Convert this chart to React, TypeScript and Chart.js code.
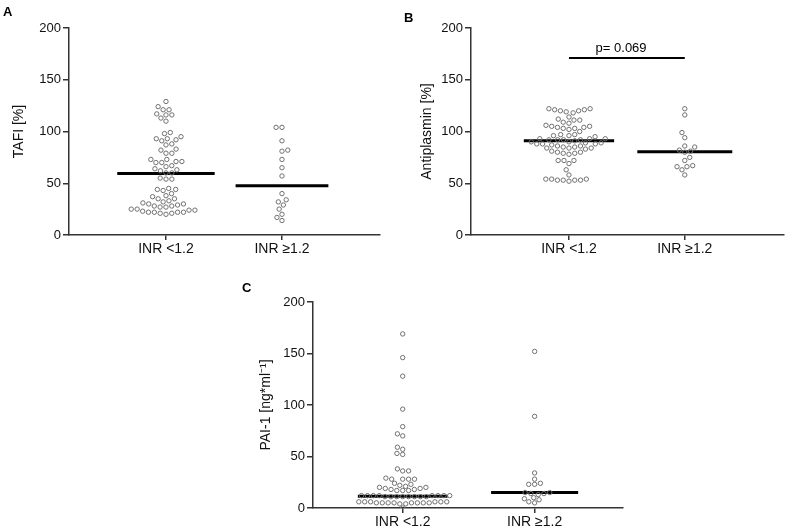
import React, { useEffect, useRef } from "react";
import { Chart, registerables } from "chart.js";

Chart.register(...registerables);

// ---------- data ----------
const categories = ["INR <1.2", "INR \u22651.2"];
const yTickValues = [0, 50, 100, 150, 200];

const tafiLow = [
  129, 124, 121, 121, 117, 116, 116, 113, 110,
  99, 98, 95, 93, 93, 92, 91, 88, 87, 83, 82, 79, 79,
  73, 73, 71, 71, 70, 70, 67, 66, 64, 63, 62, 60, 60, 55, 54, 54,
  45, 44, 44, 43, 40, 38, 37, 35, 35,
  33, 32, 31, 30, 30, 29, 28, 28, 27, 27,
  25, 25, 24, 24, 23, 22, 22, 22, 22, 21, 21, 20,
];
const tafiHigh = [104, 104, 91, 82, 81, 73, 65, 57, 40, 34, 32, 29, 25, 20, 17, 14];
const tafiMedians = [59.5, 47.5];

const antiLow = [
  122, 122, 121, 121, 120, 120, 119, 118,
  114, 112, 111, 111, 109, 108,
  106, 105, 105, 104, 104, 103, 103, 102, 100,
  97, 97, 96, 96, 95,
  93, 93, 93, 92, 92, 92, 92, 91,
  90, 90, 89, 89, 88, 88, 88,
  87, 86, 86, 85, 85, 84, 84, 84, 83,
  81, 80, 80, 79, 79, 78,
  72, 72, 72, 69, 63, 58,
  54, 54, 54, 53, 53, 53, 53, 52,
];
const antiHigh = [122, 116, 99, 94, 86, 85, 82, 81, 80, 75, 72, 67, 66, 66, 63, 58];
const antiMedians = [91, 80.5];
const pText = "p= 0.069";
const pBarValue = 171;
const pTextValue = 180;
const pTextCategory = 1.45;

const paiLow = [
  169, 146, 128, 96, 79, 72, 70, 59, 57, 53, 52, 38, 36, 36,
  29, 28, 28, 28, 28,
  24, 23, 22, 21, 20, 20,
  19, 19, 18, 18, 17, 17, 17,
  12, 12, 12, 12, 12, 12, 12, 12, 11, 11, 11, 11, 11, 11, 11, 11,
  6, 6, 6, 6, 6, 6, 5, 5, 5, 5, 5, 5, 5, 5, 4, 4,
  0,
];
const paiHigh = [152, 89, 34, 28, 24, 23, 23, 15, 15, 14, 14, 13, 10, 9, 8, 6, 5];
const paiMedians = [11.3, 15];

// ---------- layout helpers ----------
const FONT = "'Liberation Sans', Arial, Helvetica, sans-serif";

function swarm(values: number[], center: number, kx: number, ky: number, d: number, squash: number) {
  const sorted = [...values].sort((a, b) => a - b);
  const placed: { x: number; y: number }[] = [];
  const out: { x: number; y: number }[] = [];
  sorted.forEach((v, i) => {
    const y = v * ky * squash;
    const intervals: [number, number][] = [];
    for (const p of placed) {
      const dy = Math.abs(p.y - y);
      if (dy < d) {
        const w = Math.sqrt(d * d - dy * dy);
        intervals.push([p.x - w, p.x + w]);
      }
    }
    const pref = i % 2 === 0 ? 1 : -1;
    const cands = [0];
    intervals.forEach(([a, b]) => cands.push(a, b));
    cands.sort((a, b) => {
      const da = Math.abs(a) - Math.abs(b);
      if (Math.abs(da) > 1e-6) return da;
      return (Math.sign(b) === pref ? 1 : 0) - (Math.sign(a) === pref ? 1 : 0);
    });
    let x = 0;
    for (const c of cands) {
      if (intervals.every(([a, b]) => c <= a + 1e-6 || c >= b - 1e-6)) {
        x = c;
        break;
      }
    }
    placed.push({ x, y });
    out.push({ x: center + x / kx, y: v });
  });
  return out;
}

type PanelProps = {
  left: number;
  top: number;
  width: number;
  height: number;
  yTitle: string;
  titlePad: number;
  yAxisWidth: number;
  padTop: number;
  padRight: number;
  xAxisH: number;
  xMin: number;
  xMax: number;
  low: number[];
  high: number[];
  medians: number[];
  halfWidths: number[];
  squash: number;
  sig?: boolean;
};

function Panel(props: PanelProps) {
  const ref = useRef<HTMLCanvasElement | null>(null);
  useEffect(() => {
    const canvas = ref.current;
    if (!canvas) return;
    const areaW = props.width - props.yAxisWidth - props.padRight;
    const areaH = props.height - props.padTop - props.xAxisH;
    const kx = areaW / (props.xMax - props.xMin);
    const ky = areaH / 200;
    const D = 5.9;
    const ptsLow = swarm(props.low, 1, kx, ky, D, props.squash);
    const ptsHigh = swarm(props.high, 2, kx, ky, D, props.squash);

    const pointStyle = {
      type: "scatter" as const,
      pointRadius: 2.2,
      pointHoverRadius: 2.2,
      borderWidth: 1,
      pointBorderColor: "#707070",
      pointBackgroundColor: "rgba(255,255,255,0)",
      showLine: false,
    };
    const medianLine = (i: number) => ({
      type: "line" as const,
      data: [
        { x: i + 1 - props.halfWidths[i], y: props.medians[i] },
        { x: i + 1 + props.halfWidths[i], y: props.medians[i] },
      ],
      borderColor: "#000",
      borderWidth: 3,
      pointRadius: 0,
      showLine: true,
      fill: false,
    });
    const datasets: any[] = [
      { ...pointStyle, data: ptsLow },
      { ...pointStyle, data: ptsHigh },
      medianLine(0),
      medianLine(1),
    ];
    if (props.sig) {
      datasets.push({
        type: "line",
        data: [
          { x: 1, y: pBarValue },
          { x: 2, y: pBarValue },
        ],
        borderColor: "#000",
        borderWidth: 2,
        pointRadius: 0,
        showLine: true,
        fill: false,
      });
    }

    const sigPlugin = {
      id: "sigText",
      afterDatasetsDraw(chart: any) {
        if (!props.sig) return;
        const { ctx, scales } = chart;
        ctx.save();
        ctx.font = `13px ${FONT}`;
        ctx.fillStyle = "#000";
        ctx.textAlign = "center";
        ctx.textBaseline = "middle";
        ctx.fillText(pText, scales.x.getPixelForValue(pTextCategory), scales.y.getPixelForValue(pTextValue));
        ctx.restore();
      },
    };

    const chart = new Chart(canvas, {
      type: "scatter",
      data: { datasets },
      plugins: [sigPlugin],
      options: {
        animation: false,
        responsive: false,
        devicePixelRatio: 1,
        layout: { padding: { left: 0, top: props.padTop, right: props.padRight, bottom: 0 } },
        plugins: { legend: { display: false }, tooltip: { enabled: false } },
        scales: {
          x: {
            type: "linear",
            min: props.xMin,
            max: props.xMax,
            afterBuildTicks: (s: any) => {
              s.ticks = [{ value: 1 }, { value: 2 }];
            },
            afterFit: (s: any) => {
              s.height = props.xAxisH;
            },
            ticks: {
              callback: (v: any) => categories[Math.round(Number(v)) - 1] ?? "",
              font: { family: FONT, size: 14 },
              color: "#111",
              padding: 1,
              maxRotation: 0,
              autoSkip: false,
            },
            grid: {
              display: true,
              drawOnChartArea: false,
              drawTicks: true,
              tickLength: 5,
              color: "#333",
              lineWidth: 1.5,
            },
            border: { display: true, color: "#333", width: 1.5 },
          },
          y: {
            type: "linear",
            min: 0,
            max: 200,
            afterBuildTicks: (s: any) => {
              s.ticks = yTickValues.map((v) => ({ value: v }));
            },
            afterFit: (s: any) => {
              s.width = props.yAxisWidth;
            },
            ticks: {
              font: { family: FONT, size: 13 },
              color: "#111",
              padding: 2,
            },
            grid: {
              display: true,
              drawOnChartArea: false,
              drawTicks: true,
              tickLength: 6,
              color: "#333",
              lineWidth: 1.5,
            },
            border: { display: true, color: "#333", width: 1.5 },
            title: {
              display: true,
              text: props.yTitle,
              font: { family: FONT, size: 14 },
              color: "#111",
              padding: { top: props.titlePad, bottom: 0 },
            },
          },
        },
      } as any,
    });
    return () => chart.destroy();
  }, []);
  return (
    <canvas
      ref={ref}
      width={props.width}
      height={props.height}
      style={{ position: "absolute", left: props.left, top: props.top, width: props.width, height: props.height }}
    />
  );
}

const letterStyle = (left: number, top: number): React.CSSProperties => ({
  position: "absolute",
  left,
  top,
  fontFamily: FONT,
  fontWeight: "bold",
  fontSize: 13,
  lineHeight: "15px",
  color: "#000",
});

export default function App() {
  return (
    <div style={{ position: "fixed", left: 0, top: 0, width: 787, height: 532, background: "#fff", overflow: "hidden" }}>
      <Panel
        left={0}
        top={0}
        width={390}
        height={260}
        yTitle="TAFI [%]"
        titlePad={10.5}
        yAxisWidth={69}
        padTop={28}
        padRight={10}
        xAxisH={25}
        xMin={0.164}
        xMax={2.845}
        low={tafiLow}
        high={tafiHigh}
        medians={tafiMedians}
        halfWidths={[0.42, 0.4]}
        squash={1}
      />
      <Panel
        left={390}
        top={0}
        width={397}
        height={260}
        yTitle="Antiplasmin [%]"
        titlePad={28.5}
        yAxisWidth={81}
        padTop={28}
        padRight={0}
        xAxisH={25}
        xMin={0.154}
        xMax={2.855}
        low={antiLow}
        high={antiHigh}
        medians={antiMedians}
        halfWidths={[0.39, 0.41]}
        squash={1}
        sig
      />
      <Panel
        left={220}
        top={270}
        width={420}
        height={262}
        yTitle={"PAI-1 [ng*ml\u207B\u00B9]"}
        titlePad={37.5}
        yAxisWidth={93}
        padTop={32}
        padRight={17}
        xAxisH={24}
        xMin={0.32}
        xMax={2.67}
        low={paiLow}
        high={paiHigh}
        medians={paiMedians}
        halfWidths={[0.34, 0.33]}
        squash={1.25}
      />
      <div style={letterStyle(3, 4)}>A</div>
      <div style={letterStyle(404, 10)}>B</div>
      <div style={letterStyle(242, 280)}>C</div>
    </div>
  );
}
